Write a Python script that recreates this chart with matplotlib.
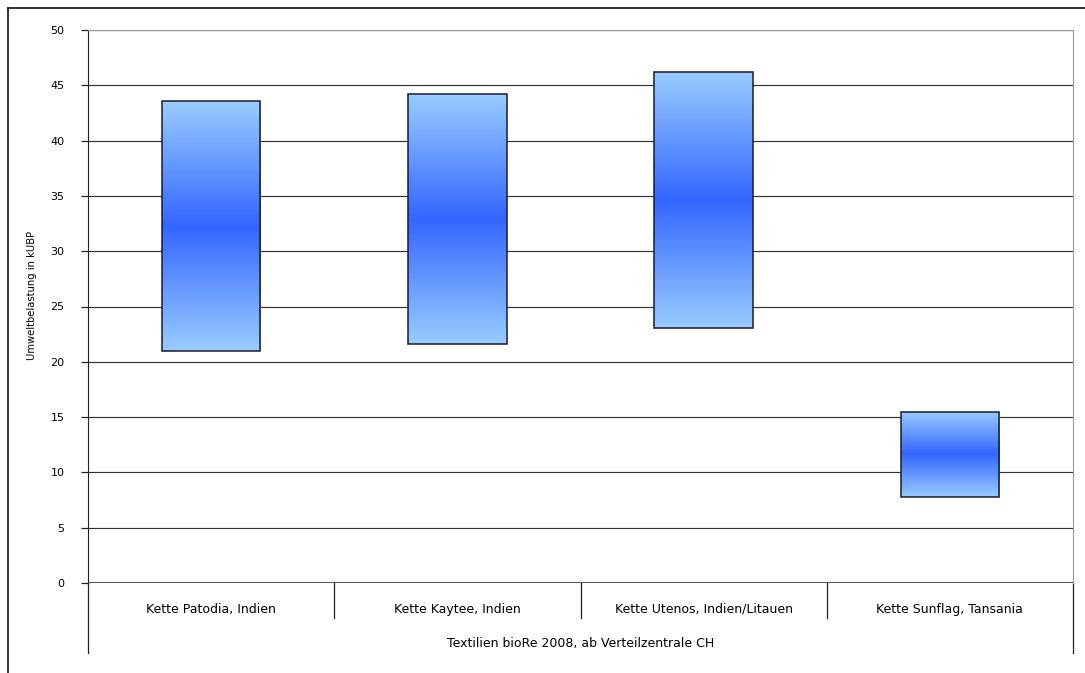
import numpy as np
import matplotlib
matplotlib.use("Agg")
import matplotlib.pyplot as plt
from matplotlib.colors import LinearSegmentedColormap
from matplotlib.lines import Line2D

categories = ["Kette Patodia, Indien", "Kette Kaytee, Indien",
              "Kette Utenos, Indien/Litauen", "Kette Sunflag, Tansania"]
group_label = "Textilien bioRe 2008, ab Verteilzentrale CH"
low = [21.0, 21.6, 23.1, 7.8]
high = [43.6, 44.2, 46.2, 15.5]
yticks = [0, 5, 10, 15, 20, 25, 30, 35, 40, 45, 50]

plt.rcParams["font.family"] = "DejaVu Sans"
W, H = 1085, 673
fig = plt.figure(figsize=(W / 100, H / 100), dpi=100)
ax = fig.add_axes([88 / W, (H - 583) / H, 985 / W, 553 / H])

n = len(categories)

# gridlines
for t in yticks[1:]:
    ax.axhline(t, color="#333333", lw=0.85, zorder=1)
ax.axhline(0, color="#222222", lw=1.1, zorder=3)

cmap = LinearSegmentedColormap.from_list("g", ["#99CCFF", "#3366FF", "#99CCFF"])
grad = np.linspace(0, 1, 256).reshape(-1, 1)
bw = 0.4
for i in range(n):
    x0 = i + 0.5 - bw / 2
    bars = ax.bar(i + 0.5, high[i] - low[i], bottom=low[i], width=bw,
                  facecolor="none", edgecolor="#1a1a2e", lw=1.1, zorder=4)
    im = ax.imshow(grad, cmap=cmap, aspect="auto", zorder=2,
                   extent=(x0, x0 + bw, low[i], high[i]), origin="lower")
    im.set_clip_path(bars.patches[0])

ax.set_xlim(0, n)
ax.set_ylim(0, 50)
ax.set_yticks(yticks)
ax.set_yticklabels([str(t) for t in yticks], fontsize=8)
ax.tick_params(axis="y", direction="out", length=5, width=0.9, color="#222222", pad=12)
ax.set_xticks([])
for side in ["top", "right"]:
    ax.spines[side].set_color("#999999")
ax.spines["bottom"].set_visible(False)
ax.spines["left"].set_color("#222222")
ax.set_ylabel("Umweltbelastung in kUBP", fontsize=7.2)
ax.yaxis.set_label_coords(-51 / 985, 0.52)

# category axis labels and dividers
d1 = -35 / 553
d2 = -70 / 553
for i in range(n + 1):
    yb = d2 if i in (0, n) else d1
    ax.plot([i, i], [0, yb], transform=ax.get_xaxis_transform(),
            color="#222222", lw=0.9, clip_on=False)
for i, c in enumerate(categories):
    ax.text(i + 0.5, -26 / 553, c, transform=ax.get_xaxis_transform(),
            ha="center", va="center", fontsize=9)
ax.text(n / 2, -60 / 553, group_label, transform=ax.get_xaxis_transform(),
        ha="center", va="center", fontsize=9)

# outer chart frame
fig.add_artist(Line2D([7.5 / W, 7.5 / W], [0, 1 - 7.5 / H], transform=fig.transFigure,
                      color="#111111", lw=1.2))
fig.add_artist(Line2D([7.5 / W, 1], [1 - 7.5 / H, 1 - 7.5 / H], transform=fig.transFigure,
                      color="#111111", lw=1.2))

fig.savefig("out.png", dpi=100)
